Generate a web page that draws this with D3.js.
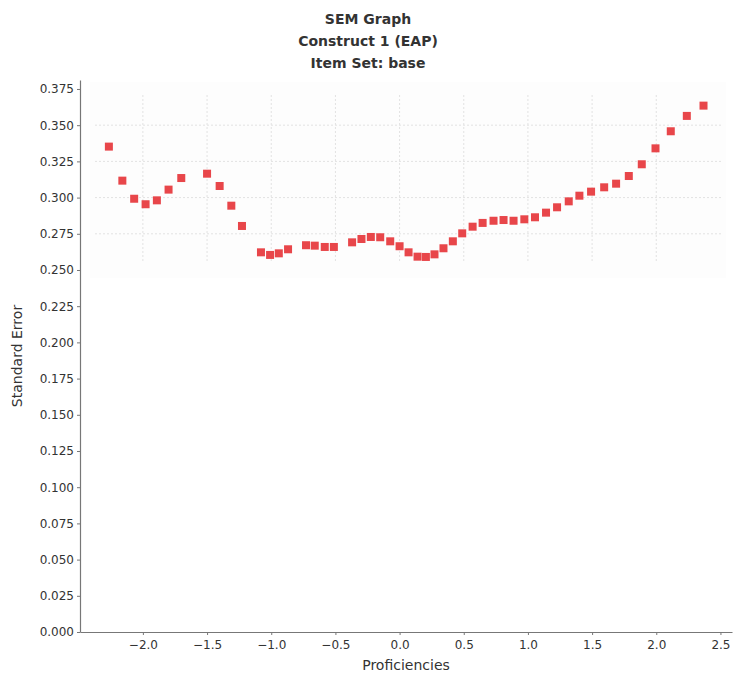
<!DOCTYPE html>
<html>
<head>
<meta charset="utf-8">
<script src="https://cdn.jsdelivr.net/npm/d3@7"></script>
<style>
  body { margin: 0; background: #fff; }
  text { font-family: "DejaVu Sans", sans-serif; fill: #222; }
</style>
</head>
<body>
<div class="svg-container"></div>
<script>
// data
const titleLines = ['SEM Graph', 'Construct 1 (EAP)', 'Item Set: base'];
const proficiencies = [
  -2.265, -2.16, -2.068, -1.979, -1.891, -1.80, -1.701,
  -1.50, -1.402, -1.311, -1.228,
  -1.080, -1.009, -0.941, -0.869, -0.729, -0.661, -0.583, -0.512,
  -0.370, -0.297, -0.224, -0.151, -0.073, 0.0, 0.07, 0.14, 0.205, 0.272,
  0.342, 0.415, 0.488, 0.569, 0.647, 0.732, 0.81, 0.888, 0.972, 1.055,
  1.141, 1.227, 1.318, 1.401, 1.492, 1.594, 1.687, 1.786, 1.887, 1.994,
  2.113, 2.238, 2.368
];
const standardErrors = [
  0.3352, 0.3117, 0.2992, 0.2954, 0.2981, 0.3055, 0.3135,
  0.3165, 0.3080, 0.2944, 0.2804,
  0.2622, 0.2604, 0.2615, 0.2643, 0.2671, 0.2668, 0.2659, 0.2659,
  0.2691, 0.2714, 0.2728, 0.2726, 0.2698, 0.2664, 0.2622, 0.2592, 0.2590, 0.2608,
  0.2650, 0.2698, 0.2753, 0.2799, 0.2825, 0.2840, 0.2845, 0.2840, 0.2850, 0.2864,
  0.2896, 0.2933, 0.2974, 0.3013, 0.3041, 0.3071, 0.3096, 0.3149, 0.3230, 0.3340,
  0.3458, 0.3564, 0.3635
];
const xTicks = [-2.0, -1.5, -1.0, -0.5, 0.0, 0.5, 1.0, 1.5, 2.0, 2.5];
const yTicks = d3.range(0, 16).map(i => i * 0.025);
const xGrid = [-2.0, -1.5, -1.0, -0.5, 0.0, 0.5, 1.0, 1.5, 2.0];
const yGrid = [0.275, 0.300, 0.325, 0.350];

const width = 734;
const height = 675;
const margin = { top: 80, right: 2, bottom: 43, left: 80 };

const svg = d3.select('.svg-container')
  .append('svg')
  .attr('width', width)
  .attr('height', height);

const x = d3.scaleLinear()
  .domain([-2.49, 2.59])
  .range([margin.left, width - margin.right]);

const y = d3.scaleLinear()
  .domain([0, 0.3812])
  .range([height - margin.bottom, margin.top]);

// title
svg.append('g')
  .selectAll('text')
  .data(titleLines)
  .enter()
  .append('text')
  .attr('x', 368)
  .attr('y', (d, i) => 24 + i * 22)
  .attr('text-anchor', 'middle')
  .style('font-size', '14px')
  .style('font-weight', 'bold')
  .style('fill', '#333')
  .text(d => d);

// faint plot background and grid (only visible around the data)
svg.append('rect')
  .attr('x', 90).attr('y', 82)
  .attr('width', 636).attr('height', 196)
  .attr('fill', '#fdfdfd');

const grid = svg.append('g')
  .attr('stroke', '#e2e2e2')
  .attr('stroke-dasharray', '2,2');

grid.selectAll('.vg')
  .data(xGrid)
  .enter()
  .append('line')
  .attr('x1', d => x(d)).attr('x2', d => x(d))
  .attr('y1', 95).attr('y2', 262);

grid.selectAll('.hg')
  .data(yGrid)
  .enter()
  .append('line')
  .attr('x1', 95).attr('x2', 722)
  .attr('y1', d => y(d)).attr('y2', d => y(d));

// axes
const xAxis = svg.append('g')
  .attr('transform', `translate(0,${height - margin.bottom})`)
  .call(d3.axisBottom(x).tickValues(xTicks).tickFormat(d3.format('.1f')).tickSize(3).tickSizeOuter(0));

const yAxis = svg.append('g')
  .attr('transform', `translate(${margin.left},0)`)
  .call(d3.axisLeft(y).tickValues(yTicks).tickFormat(d3.format('.3f')).tickSize(3).tickSizeOuter(0));

[xAxis, yAxis].forEach(a => {
  a.select('.domain').attr('stroke', '#777').attr('stroke-width', 1.2);
  a.selectAll('.tick line').attr('stroke', '#777');
  a.selectAll('.tick text')
    .style('font-size', '12px')
    .style('font-family', '"DejaVu Sans", sans-serif')
    .style('fill', '#333');
});
xAxis.selectAll('.tick text').attr('dy', '0.95em');

// axis titles
svg.append('text')
  .attr('x', (margin.left + width - margin.right) / 2)
  .attr('y', 670)
  .attr('text-anchor', 'middle')
  .style('font-size', '14px')
  .style('fill', '#333')
  .text('Proficiencies');

svg.append('text')
  .attr('transform', `translate(22,${(margin.top + height - margin.bottom) / 2}) rotate(-90)`)
  .attr('text-anchor', 'middle')
  .style('font-size', '14px')
  .style('fill', '#333')
  .text('Standard Error');

// points
const points = proficiencies.map((p, i) => ({ p, se: standardErrors[i] }));
const s = 8;
svg.append('g')
  .selectAll('rect')
  .data(points)
  .enter()
  .append('rect')
  .attr('x', d => x(d.p) - s / 2)
  .attr('y', d => y(d.se) - s / 2)
  .attr('width', s)
  .attr('height', s)
  .attr('fill', '#e8464a');
</script>
</body>
</html>
